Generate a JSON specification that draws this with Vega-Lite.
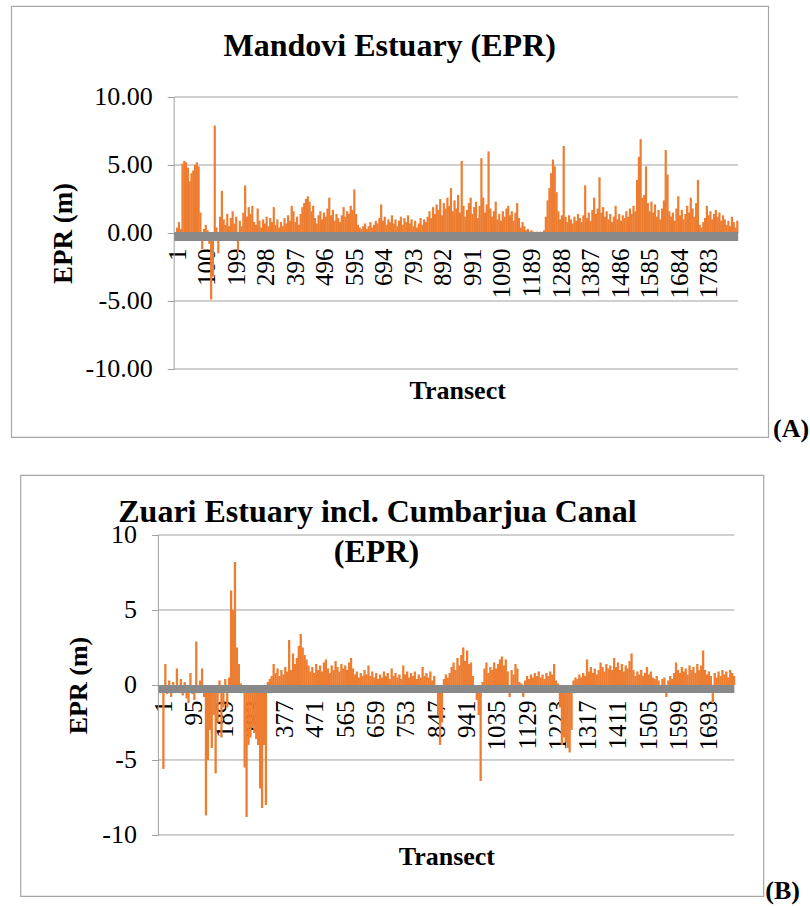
{
"$schema": "https://vega.github.io/schema/vega-lite/v6.json",
"background": "white",
"padding": {"left": 10, "top": 5, "right": 0, "bottom": 0},
"config": {
  "font": "Liberation Serif, Times New Roman, Times, DejaVu Serif, serif",
  "locale": {"number": {"decimal": ".", "thousands": ",", "grouping": [3], "currency": ["$", ""], "minus": "-"}},
  "view": {"stroke": "#a6a6a6", "strokeWidth": 1.2},
  "text": {"font": "Liberation Serif, Times New Roman, Times, DejaVu Serif, serif"},
  "axis": {"labelFont": "Liberation Serif, Times New Roman, Times, DejaVu Serif, serif", "titleFont": "Liberation Serif, Times New Roman, Times, DejaVu Serif, serif", "labelColor": "black", "titleColor": "black", "tickColor": "#a0a0a0"}
},
"spacing": 31,
"center": true,
"datasets": {
"mandovi": [
{"t":1,"v":0.4},{"t":7,"v":0.8},{"t":13,"v":0.3},{"t":19,"v":5.1},{"t":25,"v":5.3},{"t":31,"v":5.2},{"t":37,"v":4.8},{"t":43,"v":3.8},{"t":49,"v":4.4},{"t":55,"v":4.6},
{"t":61,"v":5.0},{"t":67,"v":5.2},{"t":73,"v":4.9},{"t":79,"v":1.5},{"t":85,"v":-1.2},{"t":91,"v":0.3},{"t":97,"v":0.6},{"t":103,"v":0.2},{"t":109,"v":-0.8},{"t":115,"v":-4.9},
{"t":121,"v":-3.2},{"t":127,"v":7.9},{"t":133,"v":0.4},{"t":139,"v":-1.5},{"t":145,"v":1.2},{"t":151,"v":3.1},{"t":157,"v":1.0},{"t":163,"v":0.6},{"t":169,"v":1.4},{"t":175,"v":0.5},
{"t":181,"v":1.1},{"t":187,"v":1.6},{"t":193,"v":0.7},{"t":199,"v":1.2},{"t":205,"v":-1.4},{"t":211,"v":0.9},{"t":217,"v":0.5},{"t":223,"v":1.5},{"t":229,"v":3.5},{"t":235,"v":1.2},
{"t":241,"v":1.9},{"t":247,"v":1.4},{"t":253,"v":2.0},{"t":259,"v":0.8},{"t":265,"v":0.6},{"t":271,"v":1.8},{"t":277,"v":0.9},{"t":283,"v":0.4},{"t":289,"v":1.0},{"t":295,"v":0.7},
{"t":301,"v":1.2},{"t":307,"v":0.5},{"t":313,"v":1.1},{"t":319,"v":0.8},{"t":325,"v":1.9},{"t":331,"v":0.6},{"t":337,"v":1.0},{"t":343,"v":0.4},{"t":349,"v":0.8},{"t":355,"v":0.5},
{"t":361,"v":1.1},{"t":367,"v":0.7},{"t":373,"v":1.3},{"t":379,"v":0.9},{"t":385,"v":2.0},{"t":391,"v":1.6},{"t":397,"v":0.8},{"t":403,"v":1.2},{"t":409,"v":0.6},{"t":415,"v":1.4},
{"t":421,"v":1.9},{"t":427,"v":2.2},{"t":433,"v":2.5},{"t":439,"v":2.7},{"t":445,"v":2.3},{"t":451,"v":1.6},{"t":457,"v":2.0},{"t":463,"v":1.1},{"t":469,"v":0.7},{"t":475,"v":1.3},
{"t":481,"v":1.6},{"t":487,"v":1.0},{"t":493,"v":1.5},{"t":499,"v":1.2},{"t":505,"v":1.8},{"t":511,"v":2.6},{"t":517,"v":1.3},{"t":523,"v":1.7},{"t":529,"v":0.9},{"t":535,"v":1.4},
{"t":541,"v":1.1},{"t":547,"v":0.8},{"t":553,"v":1.3},{"t":559,"v":1.9},{"t":565,"v":1.2},{"t":571,"v":1.6},{"t":577,"v":1.4},{"t":583,"v":2.0},{"t":589,"v":1.7},{"t":595,"v":3.2},
{"t":601,"v":1.4},{"t":607,"v":0.6},{"t":613,"v":0.4},{"t":619,"v":0.3},{"t":625,"v":0.5},{"t":631,"v":0.7},{"t":637,"v":0.3},{"t":643,"v":0.5},{"t":649,"v":0.8},{"t":655,"v":0.4},
{"t":661,"v":0.6},{"t":667,"v":0.9},{"t":673,"v":0.7},{"t":679,"v":1.1},{"t":685,"v":2.1},{"t":691,"v":0.9},{"t":697,"v":1.2},{"t":703,"v":0.6},{"t":709,"v":1.0},{"t":715,"v":0.8},
{"t":721,"v":1.3},{"t":727,"v":0.7},{"t":733,"v":1.0},{"t":739,"v":0.5},{"t":745,"v":0.9},{"t":751,"v":1.2},{"t":757,"v":0.6},{"t":763,"v":1.1},{"t":769,"v":0.8},{"t":775,"v":1.3},
{"t":781,"v":0.7},{"t":787,"v":1.0},{"t":793,"v":0.5},{"t":799,"v":0.9},{"t":805,"v":0.4},{"t":811,"v":0.7},{"t":817,"v":1.1},{"t":823,"v":0.6},{"t":829,"v":1.0},{"t":835,"v":0.8},
{"t":841,"v":1.2},{"t":847,"v":1.6},{"t":853,"v":1.1},{"t":859,"v":1.9},{"t":865,"v":1.4},{"t":871,"v":2.1},{"t":877,"v":1.7},{"t":883,"v":2.5},{"t":889,"v":1.3},{"t":895,"v":2.2},
{"t":901,"v":1.8},{"t":907,"v":2.6},{"t":913,"v":2.0},{"t":919,"v":3.3},{"t":925,"v":1.6},{"t":931,"v":2.4},{"t":937,"v":1.8},{"t":943,"v":2.8},{"t":949,"v":1.5},{"t":955,"v":5.3},
{"t":961,"v":2.0},{"t":967,"v":1.2},{"t":973,"v":1.7},{"t":979,"v":2.2},{"t":985,"v":2.6},{"t":991,"v":1.4},{"t":997,"v":1.9},{"t":1003,"v":2.3},{"t":1009,"v":1.1},{"t":1015,"v":2.0},
{"t":1021,"v":5.5},{"t":1027,"v":2.6},{"t":1033,"v":1.5},{"t":1039,"v":2.1},{"t":1045,"v":6.0},{"t":1051,"v":1.8},{"t":1057,"v":1.2},{"t":1063,"v":1.6},{"t":1069,"v":2.3},{"t":1075,"v":1.0},
{"t":1081,"v":1.4},{"t":1087,"v":0.9},{"t":1093,"v":1.6},{"t":1099,"v":1.2},{"t":1105,"v":1.8},{"t":1111,"v":2.0},{"t":1117,"v":1.3},{"t":1123,"v":1.6},{"t":1129,"v":0.9},{"t":1135,"v":1.5},
{"t":1141,"v":2.2},{"t":1147,"v":1.1},{"t":1153,"v":0.4},{"t":1159,"v":0.8},{"t":1165,"v":0.5},{"t":1171,"v":0.2},{"t":1177,"v":0.3},{"t":1183,"v":0.1},{"t":1189,"v":0.2},{"t":1195,"v":0.1},
{"t":1201,"v":0.05},{"t":1207,"v":0.1},{"t":1213,"v":0.05},{"t":1219,"v":0.1},{"t":1225,"v":0.05},{"t":1231,"v":0.2},{"t":1237,"v":1.2},{"t":1243,"v":2.4},{"t":1249,"v":3.3},{"t":1255,"v":4.4},
{"t":1261,"v":5.4},{"t":1267,"v":4.9},{"t":1273,"v":3.0},{"t":1279,"v":1.6},{"t":1285,"v":1.0},{"t":1291,"v":1.3},{"t":1297,"v":6.4},{"t":1303,"v":1.2},{"t":1309,"v":0.8},{"t":1315,"v":1.3},
{"t":1321,"v":1.0},{"t":1327,"v":0.7},{"t":1333,"v":1.2},{"t":1339,"v":0.9},{"t":1345,"v":1.4},{"t":1351,"v":1.1},{"t":1357,"v":0.8},{"t":1363,"v":1.3},{"t":1369,"v":3.5},{"t":1375,"v":1.1},
{"t":1381,"v":1.5},{"t":1387,"v":0.9},{"t":1393,"v":1.7},{"t":1399,"v":2.6},{"t":1405,"v":1.4},{"t":1411,"v":1.8},{"t":1417,"v":4.1},{"t":1423,"v":1.5},{"t":1429,"v":1.9},{"t":1435,"v":1.2},
{"t":1441,"v":1.6},{"t":1447,"v":1.0},{"t":1453,"v":1.4},{"t":1459,"v":0.8},{"t":1465,"v":1.2},{"t":1471,"v":2.0},{"t":1477,"v":1.0},{"t":1483,"v":1.4},{"t":1489,"v":0.9},{"t":1495,"v":1.3},
{"t":1501,"v":1.1},{"t":1507,"v":1.6},{"t":1513,"v":1.2},{"t":1519,"v":1.8},{"t":1525,"v":1.4},{"t":1531,"v":2.0},{"t":1537,"v":1.6},{"t":1543,"v":3.9},{"t":1549,"v":5.6},{"t":1555,"v":6.9},
{"t":1561,"v":2.6},{"t":1567,"v":2.8},{"t":1573,"v":4.9},{"t":1579,"v":2.2},{"t":1585,"v":1.6},{"t":1591,"v":2.3},{"t":1597,"v":1.5},{"t":1603,"v":2.1},{"t":1609,"v":1.2},{"t":1615,"v":1.7},
{"t":1621,"v":1.0},{"t":1627,"v":1.8},{"t":1633,"v":2.4},{"t":1639,"v":6.1},{"t":1645,"v":4.3},{"t":1651,"v":1.6},{"t":1657,"v":1.2},{"t":1663,"v":1.5},{"t":1669,"v":0.9},{"t":1675,"v":1.8},
{"t":1681,"v":2.7},{"t":1687,"v":1.3},{"t":1693,"v":1.7},{"t":1699,"v":1.0},{"t":1705,"v":1.4},{"t":1711,"v":2.0},{"t":1717,"v":1.5},{"t":1723,"v":2.6},{"t":1729,"v":1.8},{"t":1735,"v":1.2},
{"t":1741,"v":2.2},{"t":1747,"v":3.9},{"t":1753,"v":0.6},{"t":1759,"v":0.4},{"t":1765,"v":0.8},{"t":1771,"v":1.1},{"t":1777,"v":2.0},{"t":1783,"v":1.3},{"t":1789,"v":1.6},{"t":1795,"v":1.0},
{"t":1801,"v":1.4},{"t":1807,"v":1.7},{"t":1813,"v":1.2},{"t":1819,"v":1.5},{"t":1825,"v":0.9},{"t":1831,"v":1.3},{"t":1837,"v":1.0},{"t":1843,"v":0.6},{"t":1849,"v":0.9},{"t":1855,"v":0.5},
{"t":1861,"v":1.2},{"t":1867,"v":0.8},{"t":1873,"v":0.4},{"t":1879,"v":0.9}
],
"zuari": [
{"t":1,"v":-5.6},{"t":7,"v":1.4},{"t":13,"v":-0.6},{"t":19,"v":0.3},{"t":25,"v":-0.8},{"t":31,"v":0.2},{"t":37,"v":-0.4},{"t":43,"v":1.1},{"t":49,"v":-0.3},{"t":55,"v":0.4},
{"t":61,"v":-0.7},{"t":67,"v":0.2},{"t":73,"v":-0.9},{"t":79,"v":-1.2},{"t":85,"v":0.8},{"t":91,"v":-0.6},{"t":97,"v":-1.0},{"t":103,"v":2.9},{"t":109,"v":-0.5},{"t":115,"v":0.3},
{"t":121,"v":1.1},{"t":127,"v":-0.8},{"t":133,"v":-8.7},{"t":139,"v":-5.0},{"t":145,"v":-3.0},{"t":151,"v":-4.2},{"t":157,"v":-2.0},{"t":163,"v":-5.9},{"t":169,"v":-2.5},{"t":175,"v":0.3},
{"t":181,"v":-3.5},{"t":187,"v":-1.5},{"t":193,"v":0.4},{"t":199,"v":-1.5},{"t":205,"v":0.5},{"t":211,"v":6.3},{"t":217,"v":5.0},{"t":223,"v":8.2},{"t":229,"v":2.5},{"t":235,"v":1.4},
{"t":241,"v":0.1},{"t":247,"v":-0.2},{"t":253,"v":-5.5},{"t":259,"v":-8.8},{"t":265,"v":-4.0},{"t":271,"v":-3.5},{"t":277,"v":-2.8},{"t":283,"v":-3.2},{"t":289,"v":-3.6},{"t":295,"v":-4.0},
{"t":301,"v":-6.9},{"t":307,"v":-8.2},{"t":313,"v":-4.0},{"t":319,"v":-8.0},{"t":325,"v":0.2},{"t":331,"v":0.4},{"t":337,"v":0.6},{"t":343,"v":1.4},{"t":349,"v":0.8},{"t":355,"v":1.1},
{"t":361,"v":0.6},{"t":367,"v":1.0},{"t":373,"v":0.7},{"t":379,"v":1.2},{"t":385,"v":0.9},{"t":391,"v":3.0},{"t":397,"v":1.0},{"t":403,"v":2.1},{"t":409,"v":1.4},{"t":415,"v":1.8},
{"t":421,"v":2.6},{"t":427,"v":3.4},{"t":433,"v":2.5},{"t":439,"v":2.0},{"t":445,"v":1.7},{"t":451,"v":1.3},{"t":457,"v":0.9},{"t":463,"v":1.2},{"t":469,"v":0.8},{"t":475,"v":1.4},
{"t":481,"v":1.0},{"t":487,"v":1.3},{"t":493,"v":0.9},{"t":499,"v":1.5},{"t":505,"v":1.7},{"t":511,"v":1.1},{"t":517,"v":0.8},{"t":523,"v":1.3},{"t":529,"v":1.0},{"t":535,"v":1.6},
{"t":541,"v":1.2},{"t":547,"v":0.9},{"t":553,"v":1.4},{"t":559,"v":1.1},{"t":565,"v":1.3},{"t":571,"v":1.0},{"t":577,"v":1.5},{"t":583,"v":1.8},{"t":589,"v":1.1},{"t":595,"v":0.7},
{"t":601,"v":0.9},{"t":607,"v":0.5},{"t":613,"v":0.8},{"t":619,"v":0.6},{"t":625,"v":1.0},{"t":631,"v":0.7},{"t":637,"v":1.3},{"t":643,"v":0.6},{"t":649,"v":0.9},{"t":655,"v":0.5},
{"t":661,"v":0.8},{"t":667,"v":0.4},{"t":673,"v":0.7},{"t":679,"v":0.5},{"t":685,"v":0.9},{"t":691,"v":0.6},{"t":697,"v":0.8},{"t":703,"v":0.4},{"t":709,"v":1.1},{"t":715,"v":0.6},
{"t":721,"v":0.8},{"t":727,"v":0.5},{"t":733,"v":0.7},{"t":739,"v":0.4},{"t":745,"v":1.3},{"t":751,"v":0.7},{"t":757,"v":0.9},{"t":763,"v":0.5},{"t":769,"v":0.8},{"t":775,"v":0.6},
{"t":781,"v":0.9},{"t":787,"v":0.4},{"t":793,"v":0.7},{"t":799,"v":0.5},{"t":805,"v":1.2},{"t":811,"v":0.6},{"t":817,"v":0.8},{"t":823,"v":0.5},{"t":829,"v":0.9},{"t":835,"v":0.3},
{"t":841,"v":0.6},{"t":847,"v":-0.5},{"t":853,"v":-2.0},{"t":859,"v":-4.0},{"t":865,"v":-2.5},{"t":871,"v":0.4},{"t":877,"v":0.7},{"t":883,"v":0.5},{"t":889,"v":0.8},{"t":895,"v":1.2},
{"t":901,"v":1.5},{"t":907,"v":1.0},{"t":913,"v":1.8},{"t":919,"v":1.3},{"t":925,"v":2.0},{"t":931,"v":2.5},{"t":937,"v":1.6},{"t":943,"v":2.3},{"t":949,"v":1.4},{"t":955,"v":1.5},
{"t":961,"v":0.6},{"t":967,"v":-0.4},{"t":973,"v":-1.0},{"t":979,"v":-2.0},{"t":985,"v":-6.4},{"t":991,"v":0.2},{"t":997,"v":1.1},{"t":1003,"v":1.5},{"t":1009,"v":0.8},{"t":1015,"v":1.2},
{"t":1021,"v":1.0},{"t":1027,"v":1.5},{"t":1033,"v":1.1},{"t":1039,"v":1.4},{"t":1045,"v":1.7},{"t":1051,"v":1.9},{"t":1057,"v":1.3},{"t":1063,"v":1.7},{"t":1069,"v":0.9},{"t":1075,"v":-0.8},
{"t":1081,"v":1.0},{"t":1087,"v":0.7},{"t":1093,"v":1.4},{"t":1099,"v":1.1},{"t":1105,"v":0.2},{"t":1111,"v":0.1},{"t":1117,"v":-0.8},{"t":1123,"v":0.3},{"t":1129,"v":0.6},{"t":1135,"v":0.4},
{"t":1141,"v":0.7},{"t":1147,"v":0.5},{"t":1153,"v":0.8},{"t":1159,"v":0.6},{"t":1165,"v":0.9},{"t":1171,"v":0.5},{"t":1177,"v":0.7},{"t":1183,"v":0.4},{"t":1189,"v":0.8},{"t":1195,"v":0.6},
{"t":1201,"v":0.9},{"t":1207,"v":0.7},{"t":1213,"v":1.4},{"t":1219,"v":0.3},{"t":1225,"v":0.1},{"t":1231,"v":-1.5},{"t":1237,"v":-4.0},{"t":1243,"v":-3.5},{"t":1249,"v":-3.8},{"t":1255,"v":-4.2},
{"t":1261,"v":-4.5},{"t":1267,"v":-3.0},{"t":1273,"v":0.3},{"t":1279,"v":0.5},{"t":1285,"v":0.4},{"t":1291,"v":0.7},{"t":1297,"v":0.5},{"t":1303,"v":0.8},{"t":1309,"v":0.6},{"t":1315,"v":1.7},
{"t":1321,"v":0.9},{"t":1327,"v":1.2},{"t":1333,"v":0.8},{"t":1339,"v":1.1},{"t":1345,"v":0.7},{"t":1351,"v":1.0},{"t":1357,"v":1.5},{"t":1363,"v":1.2},{"t":1369,"v":0.9},{"t":1375,"v":1.4},
{"t":1381,"v":1.1},{"t":1387,"v":1.3},{"t":1393,"v":1.0},{"t":1399,"v":1.8},{"t":1405,"v":1.2},{"t":1411,"v":1.5},{"t":1417,"v":1.0},{"t":1423,"v":1.4},{"t":1429,"v":0.9},{"t":1435,"v":1.3},
{"t":1441,"v":1.1},{"t":1447,"v":1.6},{"t":1453,"v":2.1},{"t":1459,"v":1.0},{"t":1465,"v":0.6},{"t":1471,"v":0.9},{"t":1477,"v":0.7},{"t":1483,"v":1.0},{"t":1489,"v":0.6},{"t":1495,"v":0.8},
{"t":1501,"v":1.2},{"t":1507,"v":0.7},{"t":1513,"v":0.9},{"t":1519,"v":0.5},{"t":1525,"v":0.4},{"t":1531,"v":0.6},{"t":1537,"v":0.3},{"t":1543,"v":-0.5},{"t":1549,"v":0.4},{"t":1555,"v":0.5},
{"t":1561,"v":-0.8},{"t":1567,"v":0.3},{"t":1573,"v":0.6},{"t":1579,"v":0.4},{"t":1585,"v":0.8},{"t":1591,"v":1.5},{"t":1597,"v":1.0},{"t":1603,"v":0.8},{"t":1609,"v":1.2},{"t":1615,"v":0.9},
{"t":1621,"v":1.1},{"t":1627,"v":0.7},{"t":1633,"v":1.3},{"t":1639,"v":1.0},{"t":1645,"v":1.2},{"t":1651,"v":0.8},{"t":1657,"v":1.4},{"t":1663,"v":1.0},{"t":1669,"v":1.3},{"t":1675,"v":2.3},
{"t":1681,"v":1.0},{"t":1687,"v":0.7},{"t":1693,"v":0.9},{"t":1699,"v":0.6},{"t":1705,"v":-1.2},{"t":1711,"v":0.8},{"t":1717,"v":0.5},{"t":1723,"v":0.9},{"t":1729,"v":0.6},{"t":1735,"v":1.0},
{"t":1741,"v":0.7},{"t":1747,"v":0.9},{"t":1753,"v":0.5},{"t":1759,"v":1.0},{"t":1765,"v":0.8},{"t":1771,"v":0.6}
]
},
"vconcat": [
{
  "width": 757, "height": 431,
  "layer": [
    {"data": {"values": [{}]}, "mark": {"type": "rule", "color": "#a0a0a0", "strokeWidth": 1}, "encoding": {"y": {"datum": 10}, "x": {"datum": -9}, "x2": {"datum": 1882}}},
    {"data": {"values": [{}]}, "mark": {"type": "rule", "color": "#a0a0a0", "strokeWidth": 1}, "encoding": {"y": {"datum": 5}, "x": {"datum": -9}, "x2": {"datum": 1882}}},
    {"data": {"values": [{}]}, "mark": {"type": "rule", "color": "#a0a0a0", "strokeWidth": 1}, "encoding": {"y": {"datum": -5}, "x": {"datum": -9}, "x2": {"datum": 1882}}},
    {"data": {"values": [{}]}, "mark": {"type": "rule", "color": "#a0a0a0", "strokeWidth": 1}, "encoding": {"y": {"datum": -10}, "x": {"datum": -9}, "x2": {"datum": 1882}}},
    {"data": {"values": [{}]}, "mark": {"type": "rule", "color": "#a0a0a0", "strokeWidth": 1}, "encoding": {"x": {"datum": -9}, "y": {"datum": -10}, "y2": {"datum": 10}}},
    {
      "data": {"name": "mandovi"},
      "mark": {"type": "rule", "color": "#ED7D31", "strokeWidth": 2.2},
      "encoding": {
        "x": {"field": "t", "type": "quantitative",
          "scale": {"domain": [-555.4, 1982.6], "nice": false, "zero": false},
          "axis": {"values": [1,100,199,298,397,496,595,694,793,892,991,1090,1189,1288,1387,1486,1585,1684,1783], "format": "d",
            "labelAngle": 270, "labelAlign": "right", "labelBaseline": "middle", "labelPadding": 15, "labelFontSize": 25,
            "labelOverlap": false, "labelFlush": false, "ticks": false, "tickSize": 0, "domain": false, "grid": false, "offset": -204,
            "title": "Transect", "titleFontSize": 26, "titleFontWeight": "bold", "titleX": 446, "titleY": 165, "titleAlign": "center", "titleBaseline": "alphabetic"}},
        "y": {"field": "v", "type": "quantitative",
          "scale": {"domain": [-15.0, 16.69], "nice": false, "zero": false},
          "axis": {"values": [-10,-5,0,5,10], "format": ".2f", "offset": -163, "domain": false, "grid": false, "ticks": true, "tickSize": 7,
            "labelPadding": 15, "labelFontSize": 26,
            "title": "EPR (m)", "titleFontSize": 27, "titleFontWeight": "bold", "titleAngle": 270, "titleX": -103, "titleY": 227, "titleAlign": "center", "titleBaseline": "alphabetic"}},
        "y2": {"datum": 0}
      }
    },
    {"data": {"values": [{}]}, "mark": {"type": "rule", "color": "#898989", "strokeWidth": 9, "yOffset": 3.5}, "encoding": {"y": {"datum": 0}, "x": {"datum": -9}, "x2": {"datum": 1882}}},
    {"data": {"values": [{}]}, "mark": {"type": "text", "text": "Mandovi Estuary (EPR)", "fontSize": 32, "fontWeight": "bold", "align": "center", "baseline": "alphabetic", "color": "black"}, "encoding": {"x": {"datum": 713.5}, "y": {"datum": 13.01}}},
    {"data": {"values": [{}]}, "mark": {"type": "text", "text": "(A)", "fontSize": 26, "fontWeight": "bold", "align": "left", "baseline": "alphabetic", "color": "black"}, "encoding": {"x": {"datum": 1999}, "y": {"datum": -15.0}}}
  ]
},
{
  "width": 743, "height": 421,
  "layer": [
    {"data": {"values": [{}]}, "mark": {"type": "rule", "color": "#a0a0a0", "strokeWidth": 1}, "encoding": {"y": {"datum": 10}, "x": {"datum": -14.5}, "x2": {"datum": 1772}}},
    {"data": {"values": [{}]}, "mark": {"type": "rule", "color": "#a0a0a0", "strokeWidth": 1}, "encoding": {"y": {"datum": 5}, "x": {"datum": -14.5}, "x2": {"datum": 1772}}},
    {"data": {"values": [{}]}, "mark": {"type": "rule", "color": "#a0a0a0", "strokeWidth": 1}, "encoding": {"y": {"datum": -5}, "x": {"datum": -14.5}, "x2": {"datum": 1772}}},
    {"data": {"values": [{}]}, "mark": {"type": "rule", "color": "#a0a0a0", "strokeWidth": 1}, "encoding": {"y": {"datum": -10}, "x": {"datum": -14.5}, "x2": {"datum": 1772}}},
    {"data": {"values": [{}]}, "mark": {"type": "rule", "color": "#a0a0a0", "strokeWidth": 1}, "encoding": {"x": {"datum": -14.5}, "y": {"datum": -10}, "y2": {"datum": 10}}},
    {
      "data": {"name": "zuari"},
      "mark": {"type": "rule", "color": "#ED7D31", "strokeWidth": 2.3},
      "encoding": {
        "x": {"field": "t", "type": "quantitative",
          "scale": {"domain": [-442.5, 1862], "nice": false, "zero": false},
          "axis": {"values": [1,95,189,283,377,471,565,659,753,847,941,1035,1129,1223,1317,1411,1505,1599,1693], "format": "d",
            "labelAngle": 270, "labelAlign": "right", "labelBaseline": "middle", "labelPadding": 15, "labelFontSize": 25,
            "labelOverlap": false, "labelFlush": false, "ticks": false, "tickSize": 0, "domain": false, "grid": false, "offset": -211,
            "title": "Transect", "titleFontSize": 26, "titleFontWeight": "bold", "titleX": 426, "titleY": 179, "titleAlign": "center", "titleBaseline": "alphabetic"}},
        "y": {"field": "v", "type": "quantitative",
          "scale": {"domain": [-14.07, 14.0], "nice": false, "zero": false},
          "axis": {"values": [-10,-5,0,5,10], "format": "d", "offset": -138, "domain": false, "grid": false, "ticks": true, "tickSize": 7,
            "labelPadding": 15, "labelFontSize": 26,
            "title": "EPR (m)", "titleFontSize": 26, "titleFontWeight": "bold", "titleAngle": 270, "titleX": -72, "titleY": 210, "titleAlign": "center", "titleBaseline": "alphabetic"}},
        "y2": {"datum": 0}
      }
    },
    {"data": {"values": [{}]}, "mark": {"type": "rule", "color": "#898989", "strokeWidth": 8, "yOffset": 4}, "encoding": {"y": {"datum": 0}, "x": {"datum": -14.5}, "x2": {"datum": 1772}}},
    {"data": {"values": [{}]}, "mark": {"type": "text", "text": "Zuari Estuary incl. Cumbarjua Canal", "fontSize": 32, "fontWeight": "bold", "align": "center", "baseline": "alphabetic", "color": "black"}, "encoding": {"x": {"datum": 664.8}, "y": {"datum": 10.87}}},
    {"data": {"values": [{}]}, "mark": {"type": "text", "text": "(EPR)", "fontSize": 32, "fontWeight": "bold", "align": "center", "baseline": "alphabetic", "color": "black"}, "encoding": {"x": {"datum": 661.7}, "y": {"datum": 8.2}}},
    {"data": {"values": [{}]}, "mark": {"type": "text", "text": "(B)", "fontSize": 26, "fontWeight": "bold", "align": "left", "baseline": "alphabetic", "color": "black"}, "encoding": {"x": {"datum": 1868}, "y": {"datum": -14.27}}}
  ]
}
]
}
